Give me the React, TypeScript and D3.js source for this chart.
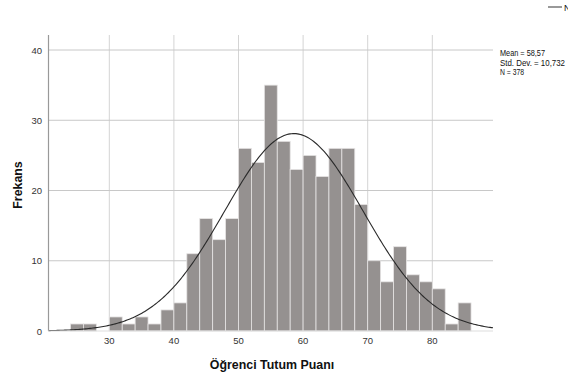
import React from "react";
import * as d3 from "d3";

const binStarts = [24,26,28,30,32,34,36,38,40,42,44,46,48,50,52,54,56,58,60,62,64,66,68,70,72,74,76,78,80,82,84];
const counts = [1,1,0,2,1,2,1,3,4,11,16,13,16,26,24,35,27,23,25,22,26,26,18,10,7,12,8,7,6,1,4];
const binWidth = 2;
const xTicks = [30,40,50,60,70,80];
const yTicks = [0,10,20,30,40];
const mean = 58.57;
const sd = 10.732;
const n = 378;
const statsLines = ["Mean = 58,57", "Std. Dev. = 10,732", "N = 378"];

export default function App() {
  const W = 568, H = 378;
  const left = 48.5, right = 493, top = 35, bottom = 331;
  const x = d3.scaleLinear().domain([30, 80]).range([109.3, 432.3]);
  const xMin = x.invert(left), xMax = x.invert(right);
  const y = d3.scaleLinear().domain([0, 40]).range([bottom, 50]);
  const pdf = (v: number) =>
    (n * binWidth) / (sd * Math.sqrt(2 * Math.PI)) * Math.exp(-0.5 * ((v - mean) / sd) ** 2);
  const pts = d3.range(0, 301).map((i) => xMin + ((xMax - xMin) * i) / 300);
  const line = d3.line<number>().x((v) => x(v)).y((v) => y(pdf(v))).curve(d3.curveLinear);
  const font = "'Liberation Sans', Arial, sans-serif";
  const statLens = [45, 65, 24];
  return (
    <svg width={W} height={H} style={{ position: "absolute", left: 0, top: 0, background: "#fff" }} fontFamily={font}>
      {xTicks.map((t) => (
        <line key={"vx" + t} x1={x(t)} x2={x(t)} y1={top} y2={bottom} stroke="#d4d4d4" strokeWidth={1} />
      ))}
      {yTicks.filter((t) => t > 0).map((t) => (
        <line key={"hy" + t} x1={left} x2={right} y1={y(t)} y2={y(t)} stroke="#c8c8c8" strokeWidth={1} />
      ))}
      {counts.map((c, i) =>
        c > 0 ? (
          <rect
            key={"b" + i}
            x={x(binStarts[i])}
            y={y(c)}
            width={x(binStarts[i] + binWidth) - x(binStarts[i])}
            height={y(0) - y(c)}
            fill="#959190"
            stroke="#e6e4e4"
            strokeWidth={0.8}
          />
        ) : null
      )}
      <path d={line(pts) || ""} fill="none" stroke="#2a2a2a" strokeWidth={1.1} />
      <line x1={left} x2={left} y1={top} y2={bottom} stroke="#999" strokeWidth={1.2} />
      <line x1={left} x2={right} y1={bottom} y2={bottom} stroke="#ddd" strokeWidth={1} />
      {yTicks.map((t) => (
        <text key={"yt" + t} x={42} y={y(t) + 3.5} textAnchor="end" fontSize={9.5} fill="#333">
          {t}
        </text>
      ))}
      {xTicks.map((t) => (
        <text key={"xt" + t} x={x(t)} y={344} textAnchor="middle" fontSize={9.5} fill="#333">
          {t}
        </text>
      ))}
      <text x={272} y={369} textAnchor="middle" fontSize={12.4} fontWeight="bold" fill="#111">
        Öğrenci Tutum Puanı
      </text>
      <text transform="translate(22,185) rotate(-90)" textAnchor="middle" fontSize={12.4} fontWeight="bold" fill="#111">
        Frekans
      </text>
      {statsLines.map((s, i) => (
        <text key={"s" + i} x={500} y={56 + i * 9.6} fontSize={8.6} fill="#111"
          textLength={statLens[i]} lengthAdjust="spacingAndGlyphs">
          {s}
        </text>
      ))}
      <line x1={548} x2={562} y1={7} y2={7} stroke="#555" strokeWidth={1.2} />
      <text x={564} y={10.5} fontSize={9} fill="#111">Normal</text>
    </svg>
  );
}
